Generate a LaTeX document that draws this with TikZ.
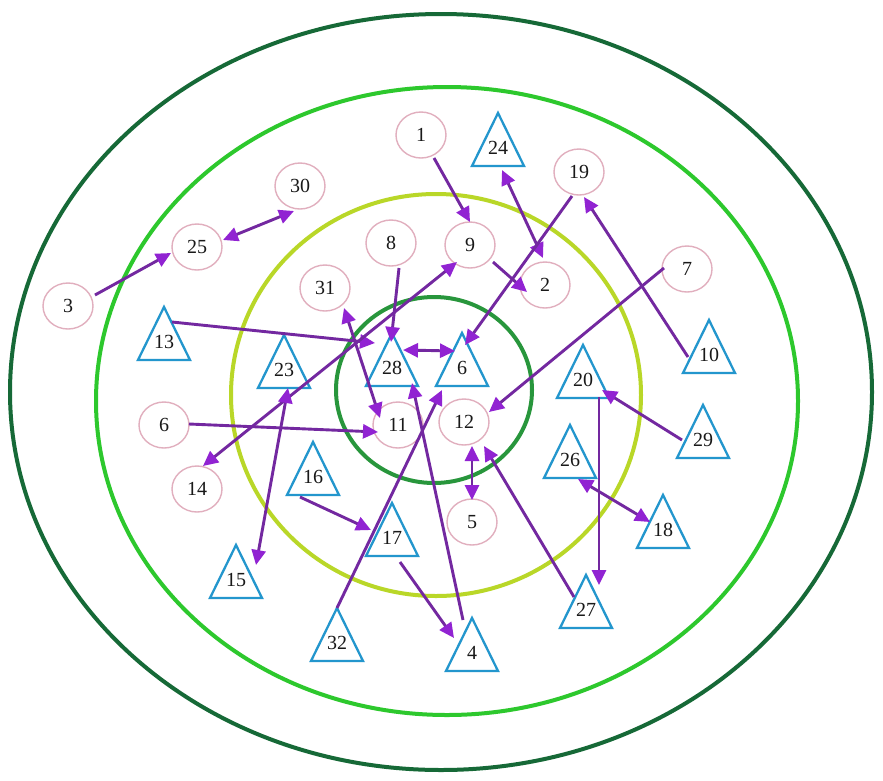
\documentclass[tikz,border=0pt]{standalone}
\usepackage{fontspec}
\setmainfont{Liberation Serif}
\usetikzlibrary{arrows.meta,calc,shapes.geometric}
\definecolor{ringA}{RGB}{22,105,55}
\definecolor{ringB}{RGB}{45,200,45}
\definecolor{ringC}{RGB}{185,215,40}
\definecolor{ringD}{RGB}{40,150,60}
\definecolor{pinkc}{RGB}{225,175,190}
\definecolor{bluec}{RGB}{35,150,205}
\definecolor{arrline}{RGB}{115,40,160}
\definecolor{arrhead}{RGB}{145,35,210}
\definecolor{labc}{RGB}{25,25,25}
\tikzset{
  ring/.style={line width=4pt},
  circ/.style={ellipse, draw=pinkc, line width=1.4pt, minimum width=50pt, minimum height=46pt, inner sep=0pt, text=labc, font=\fontsize{20}{24}\selectfont},
  tric/.style={draw=bluec, line width=2.3pt, line join=miter},
  trilab/.style={inner sep=0pt, text=labc, font=\fontsize{20}{24}\selectfont},
  arr/.style={draw=arrline, line width=2.9pt, -{Triangle[length=15pt,width=14pt,color=arrhead]}},
  arrb/.style={draw=arrline, line width=2.9pt, {Triangle[length=15pt,width=14pt,color=arrhead]}-{Triangle[length=15pt,width=14pt,color=arrhead]}}
}
\newcommand\trinode[4]{%
  \draw[tric] (#2,#3-35) -- (#2+26,#3+18) -- (#2-26,#3+18) -- cycle;
  \node[trilab] (#1) at (#2,#3) {#4};}
\begin{document}
\begin{tikzpicture}[x=1pt,y=-1pt]
\useasboundingbox (0,0) rectangle (883,780);
\fill[white] (0,0) rectangle (883,780);
% rings
\draw[ring, draw=ringA] (441,392) ellipse [x radius=431, y radius=378];
\draw[ring, draw=ringB] (447,401) ellipse [x radius=351, y radius=314];
\draw[ring, draw=ringC] (436,395) ellipse [x radius=205, y radius=201];
\draw[ring, draw=ringD] (434,390) ellipse [x radius=98, y radius=93];
% circles
\node[circ] (c1) at (421,135) {1};
\node[circ] (c30) at (300,186) {30};
\node[circ] (c19) at (579,172) {19};
\node[circ] (c25) at (197,247) {25};
\node[circ] (c9) at (470,245) {9};
\node[circ] (c8) at (391,243) {8};
\node[circ] (c2) at (545,285) {2};
\node[circ] (c7) at (687,269) {7};
\node[circ] (c3) at (68,306) {3};
\node[circ] (c31) at (325,288) {31};
\node[circ] (c11) at (398,425) {11};
\node[circ] (c12) at (464,422) {12};
\node[circ] (c6) at (164,425) {6};
\node[circ] (c14) at (197,489) {14};
\node[circ] (c5) at (472,522) {5};
% triangles
\trinode{t24}{498}{148}{24}
\trinode{t13}{164}{342}{13}
\trinode{t23}{284}{370}{23}
\trinode{t28}{392}{368}{28}
\trinode{t6}{462}{368}{6}
\trinode{t20}{583}{380}{20}
\trinode{t10}{709}{355}{10}
\trinode{t29}{703}{440}{29}
\trinode{t26}{570}{460}{26}
\trinode{t16}{313}{477}{16}
\trinode{t18}{663}{530}{18}
\trinode{t17}{392}{538}{17}
\trinode{t15}{236}{580}{15}
\trinode{t27}{586}{610}{27}
\trinode{t32}{337}{643}{32}
\trinode{t4}{472}{653}{4}
% connectors
\draw[arr]  ($(c3)+(27,-11)$) -- ($(c25)+(-26,6)$);
\draw[arrb] ($(c25)+(26,-7)$) -- ($(c30)+(-6,25)$);
\draw[arr]  ($(c1)+(13,23)$) -- ($(c9)+(0,-23)$);
\draw[arr]  ($(c9)+(23,17)$) -- ($(c2)+(-18,7)$);
\draw[arrb] ($(t24)+(4,22)$) -- ($(c2)+(-2,-27)$);
\draw[arr]  ($(c19)+(-7,24)$) -- ($(t6)+(3,-23)$);
\draw[arr]  ($(t10)+(-21,2)$) -- ($(c19)+(5,25)$);
\draw[arr]  ($(c7)+(-23,-1)$) -- ($(c12)+(25,-10)$);
\draw[arr]  ($(c8)+(8,25)$) -- ($(t28)+(-1,-26)$);
\draw[arr]  ($(t13)+(8,-20)$) -- ($(t28)+(-17,-25)$);
\draw[arrb] ($(t28)+(11,-18)$) -- ($(t6)+(-7,-17)$);
\draw[arrb] ($(c31)+(19,20)$) -- ($(c11)+(-18,-7)$);
\draw[arrb] ($(c14)+(6,-23)$) -- ($(c9)+(-13,17)$);
\draw[arr]  ($(c6)+(25,-1)$) -- ($(c11)+(-20,7)$);
\draw[arrb] ($(t23)+(4,18)$) -- ($(t15)+(20,-15)$);
\draw[arr]  ($(t16)+(-13,20)$) -- ($(t17)+(-21,-8)$);
\draw[arr]  ($(t32)+(0,-35)$) -- ($(t6)+(-20,22)$);
\draw[arr]  ($(t4)+(-9,-33)$) -- ($(t28)+(20,15)$);
\draw[arr]  ($(t17)+(8,24)$) -- ($(t4)+(-18,-15)$);
\draw[arrb] ($(c12)+(8,24)$) -- ($(c5)+(0,-22)$);
\draw[arr]  ($(t27)+(-12,-13)$) -- ($(c12)+(20,24)$);
\draw[arr]  ($(t29)+(-21,0)$) -- ($(t20)+(19,10)$);
\draw[arr]  ($(t20)+(16,17)$) -- ($(t27)+(13,-25)$);
\draw[arrb] ($(t26)+(8,19)$) -- ($(t18)+(-13,-8)$);
\end{tikzpicture}
\end{document}
